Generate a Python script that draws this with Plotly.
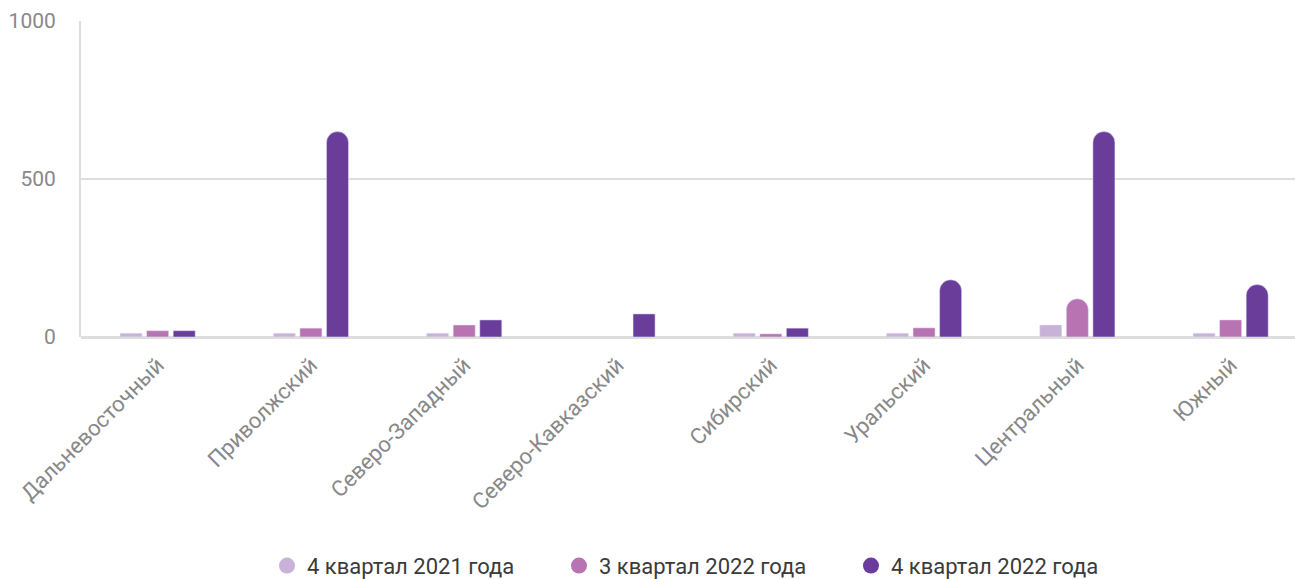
import plotly.graph_objects as go

categories = ["Дальневосточный", "Приволжский", "Северо-Западный", "Северо-Кавказский",
              "Сибирский", "Уральский", "Центральный", "Южный"]
series_names = ["4 квартал 2021 года", "3 квартал 2022 года", "4 квартал 2022 года"]
q4_2021 = [12, 12, 12, None, 12, 12, 38, 12]
q3_2022 = [20, 28, 38, None, 10, 29, 121, 54]
q4_2022 = [20, 650, 54, 73, 28, 181, 650, 166]
colors = ["#c9b2d7", "#b873b3", "#6a3d9a"]
y_ticks = [0, 500, 1000]

ROUND_MIN = 100  # taller bars have rounded tops

fig = go.Figure()
for name, vals, col in zip(series_names, [q4_2021, q3_2022, q4_2022], colors):
    tall = [v if (v is not None and v > ROUND_MIN) else None for v in vals]
    short = [v if (v is not None and v <= ROUND_MIN) else None for v in vals]
    fig.add_trace(go.Bar(x=categories, y=tall, name=name, marker=dict(color=col, cornerradius=11),
                         offsetgroup=name, legendgroup=name, showlegend=False, hoverinfo="skip"))
    fig.add_trace(go.Bar(x=categories, y=short, name=name, marker=dict(color=col),
                         offsetgroup=name, legendgroup=name, showlegend=False))
    fig.add_trace(go.Scatter(x=[None], y=[None], mode="markers", name=name, legendgroup=name,
                             marker=dict(color=col, size=22, symbol="circle")))

fig.update_layout(
    width=1295, height=579,
    margin=dict(l=81, r=0, t=21, b=242, autoexpand=False),
    paper_bgcolor="white", plot_bgcolor="white",
    barmode="group", bargap=0.48, bargroupgap=0.17,
    font=dict(family="Roboto", color="#888888"),
    showlegend=True,
    legend=dict(orientation="h", x=0.514, xanchor="center", y=-0.724, yanchor="middle",
                font=dict(size=22, color="#3a3a3a"), entrywidth=247, entrywidthmode="pixels",
                itemsizing="trace"),
    xaxis=dict(range=[-0.5, 7.42], tickangle=-45, tickfont=dict(size=22, color="#888888"),
               showgrid=False, showline=False, zeroline=False, ticks="", automargin=False,
               ticklabelstandoff=10),
    yaxis=dict(range=[0, 1000], tickvals=y_ticks, tickfont=dict(size=21, color="#888888"),
               showgrid=True, gridcolor="#dddddd", gridwidth=2,
               zeroline=True, zerolinecolor="#dddddd", zerolinewidth=3,
               showline=True, linecolor="#dddddd", linewidth=2,
               ticks="", ticklabelstandoff=19, automargin=False),
)

fig.write_html("out.html", config={"displayModeBar": False},
               post_script="document.body.style.margin='0';")
